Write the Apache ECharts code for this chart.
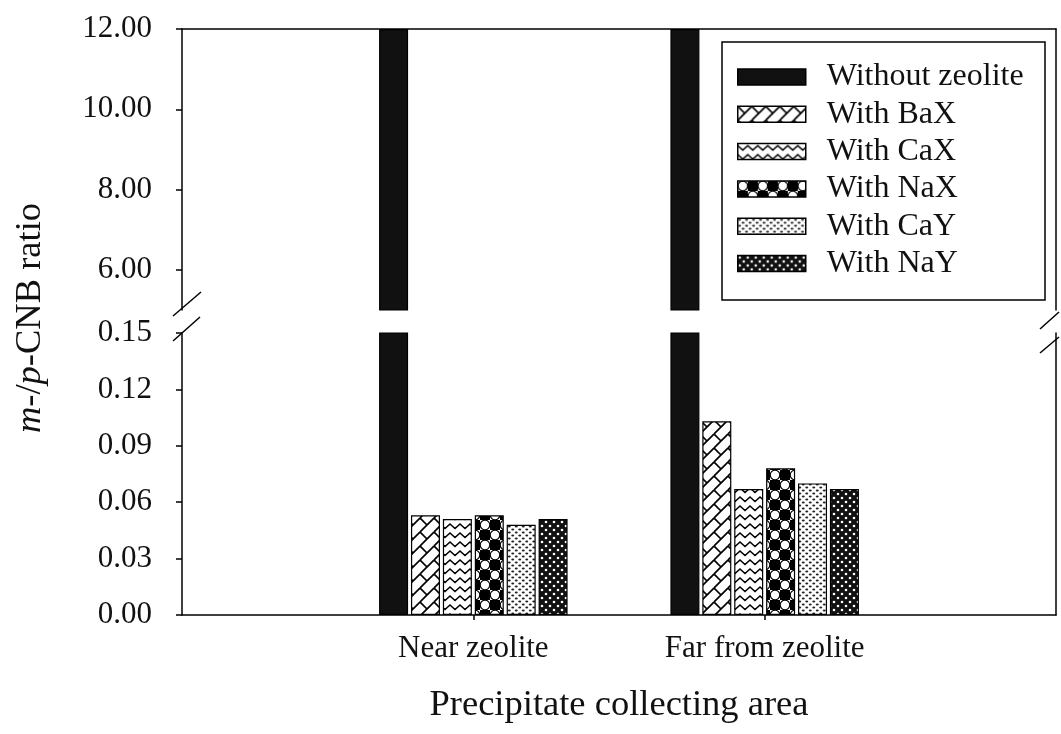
<!DOCTYPE html>
<html><head><meta charset="utf-8">
<script src="https://cdn.jsdelivr.net/npm/echarts@6/dist/echarts.min.js"></script>
<style>html,body{margin:0;padding:0;background:#fff}#chart{width:1061px;height:734px}</style>
</head><body><div id="chart"></div>
<script>
// ---- data ----
const categories = ['', 'Near zeolite', 'Far from zeolite', ''];
const seriesNames = ['Without zeolite', 'With BaX', 'With CaX', 'With NaX', 'With CaY', 'With NaY'];
const withoutZeolite = [null, 12, 12, null];
const withBaX = [null, 0.053, 0.103, null];
const withCaX = [null, 0.051, 0.067, null];
const withNaX = [null, 0.053, 0.078, null];
const withCaY = [null, 0.048, 0.070, null];
const withNaY = [null, 0.051, 0.067, null];
const upperTicks = [6, 8, 10, 12];
const upperRange = [5, 12];
const lowerRange = [0, 0.15];
const lowerInterval = 0.03;
const yAxisTitle = '{i|m}-/{i|p}-CNB ratio';
const xAxisTitle = 'Precipitate collecting area';

// ---- patterns (style only) ----
function makeTile(w, h, draw) {
  const c = document.createElement('canvas'); c.width = w; c.height = h;
  const ctx = c.getContext('2d'); draw(ctx, w, h);
  return { image: c, repeat: 'repeat' };
}
const patBaX = makeTile(14, 14, (ctx, s) => {
  ctx.fillStyle = '#fff'; ctx.fillRect(0, 0, s, s);
  ctx.strokeStyle = '#000'; ctx.lineWidth = 1.7;
  for (const dx of [-s, 0, s]) for (const dy of [-s, 0, s]) {
    ctx.beginPath(); ctx.moveTo(dx, s + dy); ctx.lineTo(s + dx, dy); ctx.stroke();
    ctx.beginPath(); ctx.moveTo(dx, dy); ctx.lineTo(s / 2 + dx, s / 2 + dy); ctx.stroke();
  }
});
const patCaX = makeTile(10, 9, (ctx, w, h) => {
  ctx.fillStyle = '#fff'; ctx.fillRect(0, 0, w, h);
  ctx.strokeStyle = '#000'; ctx.lineWidth = 1.5;
  ctx.beginPath(); ctx.moveTo(-5, 6.5); ctx.lineTo(0, 2); ctx.lineTo(5, 6.5); ctx.lineTo(10, 2); ctx.lineTo(15, 6.5); ctx.stroke();
});
const patNaX = makeTile(20, 20, (ctx, s) => {
  ctx.fillStyle = '#fff'; ctx.fillRect(0, 0, s, s);
  ctx.fillStyle = '#000'; ctx.fillRect(10, 0, 10, 10); ctx.fillRect(0, 10, 10, 10);
  ctx.strokeStyle = '#000'; ctx.lineWidth = 1.2;
  for (const [cx, cy] of [[5, 5], [15, 15]]) {
    ctx.beginPath(); ctx.arc(cx, cy, 4.8, 0, Math.PI * 2); ctx.fillStyle = '#fff'; ctx.fill(); ctx.stroke();
  }
});
const patCaY = makeTile(7, 6, (ctx, w, h) => {
  ctx.fillStyle = '#fff'; ctx.fillRect(0, 0, w, h);
  ctx.fillStyle = '#222';
  for (const [cx, cy] of [[1.75, 1.5], [5.25, 4.5]]) {
    ctx.beginPath(); ctx.ellipse(cx, cy, 1.5, 0.95, 0, 0, Math.PI * 2); ctx.fill();
  }
});
const patNaY = makeTile(8, 8, (ctx, s) => {
  ctx.fillStyle = '#111'; ctx.fillRect(0, 0, s, s);
  ctx.fillStyle = '#fff';
  for (const [cx, cy] of [[2, 2], [6, 6]]) {
    ctx.beginPath(); ctx.arc(cx, cy, 1.3, 0, Math.PI * 2); ctx.fill();
  }
});

const FONT = 'Liberation Serif';
const dataSets = [withoutZeolite, withBaX, withCaX, withNaX, withCaY, withNaY];
const fills = ['#111', patBaX, patCaX, patNaX, patCaY, patNaY];

const series = [];
[0, 1].forEach(g => dataSets.forEach((d, i) => series.push({
  type: 'bar', name: seriesNames[i], xAxisIndex: g, yAxisIndex: g === 0 ? 0 : 2,
  data: d, barWidth: 29, barGap: '10%', clip: true, silent: true,
  itemStyle: { color: fills[i], borderColor: '#000', borderWidth: 1.2 },
  emphasis: { disabled: true }
})));

const lineStyle = { color: '#000', width: 1.5 };
const commonX = {
  type: 'category', data: categories, boundaryGap: false,
  splitLine: { show: false }
};

const option = {
  animation: false,
  backgroundColor: '#fff',
  grid: [
    { left: 182, right: 5, top: 29, height: 281 },
    { left: 182, right: 5, top: 333, height: 282 }
  ],
  xAxis: [
    Object.assign({}, commonX, { gridIndex: 0, position: 'top',
      axisLine: { show: true, lineStyle }, axisTick: { show: false }, axisLabel: { show: false } }),
    Object.assign({}, commonX, { gridIndex: 1, position: 'bottom',
      axisLine: { show: true, lineStyle },
      axisTick: { show: true, length: 5, lineStyle, interval: (idx, v) => v !== '' },
      axisLabel: { fontFamily: FONT, fontSize: 31, color: '#111', margin: 18, interval: 0 },
      name: xAxisTitle, nameLocation: 'middle', nameGap: 72,
      nameTextStyle: { fontFamily: FONT, fontSize: 36.5, color: '#111' } })
  ],
  yAxis: [
    { type: 'value', gridIndex: 0, position: 'left', min: upperRange[0], max: upperRange[1],
      axisLine: { show: true, lineStyle },
      axisTick: { show: true, length: 6, lineStyle, customValues: upperTicks },
      axisLabel: { fontFamily: FONT, fontSize: 31, color: '#111', margin: 30, customValues: upperTicks,
        formatter: v => v.toFixed(2) },
      splitLine: { show: false } },
    { type: 'value', gridIndex: 0, position: 'right', min: upperRange[0], max: upperRange[1],
      axisLine: { show: true, lineStyle }, axisTick: { show: false }, axisLabel: { show: false },
      splitLine: { show: false } },
    { type: 'value', gridIndex: 1, position: 'left', min: lowerRange[0], max: lowerRange[1], interval: lowerInterval,
      axisLine: { show: true, lineStyle },
      axisTick: { show: true, length: 6, lineStyle },
      axisLabel: { fontFamily: FONT, fontSize: 31, color: '#111', margin: 30, formatter: v => v.toFixed(2) },
      splitLine: { show: false } },
    { type: 'value', gridIndex: 1, position: 'right', min: lowerRange[0], max: lowerRange[1],
      axisLine: { show: true, lineStyle }, axisTick: { show: false }, axisLabel: { show: false },
      splitLine: { show: false } }
  ],
  legend: {
    data: seriesNames, orient: 'vertical', left: 737, top: 61, padding: 0,
    itemWidth: 68, itemHeight: 16, itemGap: 5.3, icon: 'rect', selectedMode: false,
    textStyle: { fontFamily: FONT, fontSize: 32, color: '#111', lineHeight: 32, padding: [0, 0, 0, 16] },
    itemStyle: { borderColor: '#000', borderWidth: 1.5 },
    z: 10
  },
  graphic: [
    { type: 'rect', z: 5, shape: { x: 722, y: 42, width: 323, height: 258 },
      style: { fill: '#fff', stroke: '#000', lineWidth: 1.5 } },
    { type: 'line', z: 6, shape: { x1: 173, y1: 316, x2: 201, y2: 292 }, style: { stroke: '#000', lineWidth: 1.5 } },
    { type: 'line', z: 6, shape: { x1: 173, y1: 341, x2: 200, y2: 317 }, style: { stroke: '#000', lineWidth: 1.5 } },
    { type: 'line', z: 6, shape: { x1: 1040, y1: 329, x2: 1059, y2: 312 }, style: { stroke: '#000', lineWidth: 1.5 } },
    { type: 'line', z: 6, shape: { x1: 1040, y1: 353, x2: 1059, y2: 337 }, style: { stroke: '#000', lineWidth: 1.5 } },
    { type: 'text', z: 6, x: 30, y: 318, rotation: Math.PI / 2,
      style: { text: yAxisTitle, fontFamily: FONT, fontSize: 36.5, fill: '#111', align: 'center', verticalAlign: 'middle',
        rich: { i: { fontStyle: 'italic', fontFamily: FONT, fontSize: 36.5, fill: '#111' } } } }
  ],
  series
};

const chart = echarts.init(document.getElementById('chart'), null, { renderer: 'canvas' });
chart.setOption(option);
</script>
</body></html>
